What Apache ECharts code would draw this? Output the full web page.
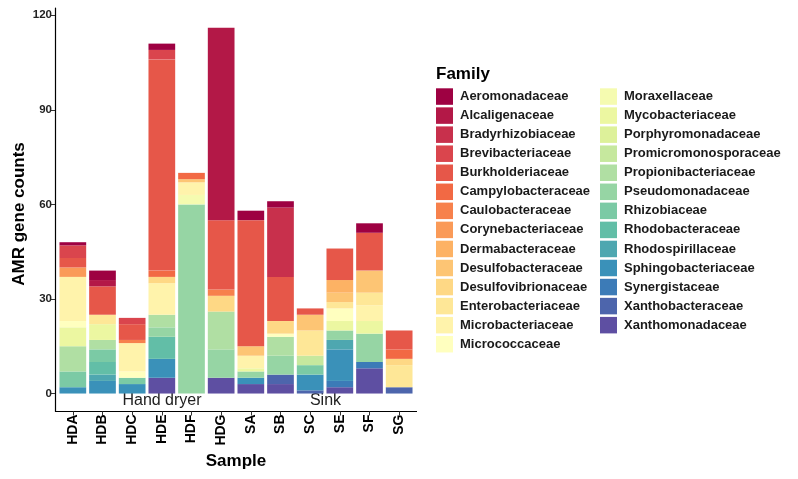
<!DOCTYPE html>
<html>
<head>
<meta charset="utf-8">
<script src="https://cdn.jsdelivr.net/npm/echarts@6/dist/echarts.min.js"></script>
<style>html,body{margin:0;padding:0;background:#fff}#chart{width:798px;height:479px}</style>
</head>
<body>
<div id="chart"></div>
<script>
// ---------------- data ----------------
const samples = ['HDA','HDB','HDC','HDE','HDF','HDG','SA','SB','SC','SE','SF','SG'];
const families = ['Aeromonadaceae','Alcaligenaceae','Bradyrhizobiaceae','Brevibacteriaceae','Burkholderiaceae',
  'Campylobacteraceae','Caulobacteraceae','Corynebacteriaceae','Dermabacteraceae','Desulfobacteraceae',
  'Desulfovibrionaceae','Enterobacteriaceae','Microbacteriaceae','Micrococcaceae','Moraxellaceae',
  'Mycobacteriaceae','Porphyromonadaceae','Promicromonosporaceae','Propionibacteriaceae','Pseudomonadaceae',
  'Rhizobiaceae','Rhodobacteraceae','Rhodospirillaceae','Sphingobacteriaceae','Synergistaceae',
  'Xanthobacteraceae','Xanthomonadaceae'];
//                          HDA HDB HDC HDE HDF HDG SA  SB  SC  SE  SF  SG
const Aeromonadaceae      = [1,  3,  0,  2,  0,  0,  3,  2,  0,  0,  3,  0];
const Alcaligenaceae      = [0,  2,  0,  0,  0, 61,  0,  0,  0,  0,  0,  0];
const Bradyrhizobiaceae   = [0,  0,  0,  0,  0,  0,  0, 22,  0,  0,  0,  0];
const Brevibacteriaceae   = [4,  0,  2,  3,  0,  0,  0,  0,  0,  0,  0,  0];
const Burkholderiaceae    = [3,  9,  5, 67,  0, 22, 40, 14,  2, 10, 12,  6];
const Campylobacteraceae  = [0,  0,  0,  2,  2,  0,  0,  0,  0,  0,  0,  3];
const Caulobacteraceae    = [0,  0,  1,  0,  0,  2,  0,  0,  0,  0,  0,  0];
const Corynebacteriaceae  = [3,  0,  0,  0,  0,  0,  0,  0,  0,  0,  0,  0];
const Dermabacteraceae    = [0,  0,  0,  0,  0,  0,  0,  0,  0,  4,  0,  0];
const Desulfobacteraceae  = [0,  0,  0,  0,  1,  0,  3,  0,  5,  3,  7,  0];
const Desulfovibrionaceae = [0,  0,  0,  2,  0,  5,  0,  4,  0,  0,  0,  2];
const Enterobacteriaceae  = [0,  3,  0,  0,  0,  0,  0,  0,  8,  2,  4,  7];
const Microbacteriaceae   = [14, 0,  9, 10,  4,  0,  4,  0,  0,  0,  5,  0];
const Micrococcaceae      = [2,  0,  2,  0,  0,  0,  0,  1,  0,  4,  0,  0];
const Moraxellaceae       = [0,  0,  0,  0,  3,  0,  0,  0,  0,  0,  0,  0];
const Mycobacteriaceae    = [6,  5,  0,  0,  0,  0,  1,  0,  0,  3,  4,  0];
const Porphyromonadaceae  = [0,  0,  0,  0,  0,  0,  0,  0,  0,  0,  0,  0];
const Promicromonosporaceae=[0,  0,  0,  0,  0,  0,  0,  0,  3,  0,  0,  0];
const Propionibacteriaceae= [8,  3,  0,  4,  0, 12,  0,  6,  0,  0,  0,  0];
const Pseudomonadaceae    = [0,  0,  0,  3, 60,  9,  2,  6,  0,  3,  9,  0];
const Rhizobiaceae        = [5,  4,  2,  0,  0,  0,  0,  0,  3,  0,  0,  0];
const Rhodobacteraceae    = [0,  4,  0,  7,  0,  0,  0,  0,  0,  0,  0,  0];
const Rhodospirillaceae   = [0,  2,  0,  0,  0,  0,  0,  0,  0,  3,  0,  0];
const Sphingobacteriaceae = [2,  4,  3,  6,  0,  0,  2,  0,  5, 10,  0,  0];
const Synergistaceae      = [0,  0,  0,  0,  0,  0,  0,  0,  0,  2,  2,  0];
const Xanthobacteraceae   = [0,  0,  0,  0,  0,  0,  0,  3,  1,  0,  0,  2];
const Xanthomonadaceae    = [0,  0,  0,  5,  0,  5,  3,  3,  0,  2,  8,  0];
const yTicks = [0, 30, 60, 90, 120];
const groupLabels = ['Hand dryer', 'Sink'];

const familyValues = [Aeromonadaceae, Alcaligenaceae, Bradyrhizobiaceae, Brevibacteriaceae, Burkholderiaceae,
  Campylobacteraceae, Caulobacteraceae, Corynebacteriaceae, Dermabacteraceae, Desulfobacteraceae,
  Desulfovibrionaceae, Enterobacteriaceae, Microbacteriaceae, Micrococcaceae, Moraxellaceae,
  Mycobacteriaceae, Porphyromonadaceae, Promicromonosporaceae, Propionibacteriaceae, Pseudomonadaceae,
  Rhizobiaceae, Rhodobacteraceae, Rhodospirillaceae, Sphingobacteriaceae, Synergistaceae,
  Xanthobacteraceae, Xanthomonadaceae];

// ---------------- style ----------------
const spectral = ['#9E0142','#D53E4F','#F46D43','#FDAE61','#FEE08B','#FFFFBF','#E6F598','#ABDDA4','#66C2A5','#3288BD','#5E4FA2'];
function hex2rgb(h){return [1,3,5].map(i=>parseInt(h.substr(i,2),16));}
function ramp(stops, n){
  const out=[];
  for(let i=0;i<n;i++){
    const t=i*(stops.length-1)/(n-1);
    const k=Math.min(Math.floor(t), stops.length-2);
    const f=t-k;
    const a=hex2rgb(stops[k]), b=hex2rgb(stops[k+1]);
    const c=a.map((v,j)=>Math.round(v+(b[j]-v)*f));
    out.push('rgb('+c.join(',')+')');
  }
  return out;
}
const colors = ramp(spectral, families.length);
const FONT = "'Liberation Sans', Arial, Helvetica, sans-serif";

const series = [];
for (let i = families.length - 1; i >= 0; i--) {
  series.push({
    name: families[i],
    type: 'bar',
    stack: 'total',
    barWidth: '90%',
    itemStyle: { color: colors[i] },
    emphasis: { disabled: true },
    data: familyValues[i]
  });
}

const chart = echarts.init(document.getElementById('chart'), null, {renderer: 'canvas'});
const legendCommon = {
  orient: 'vertical', icon: 'rect', itemWidth: 17, itemHeight: 16.5, itemGap: 2.55,
  padding: 0, selectedMode: false, top: 88.3,
  textStyle: { fontFamily: FONT, fontSize: 13, fontWeight: 'bold', color: '#1a1a1a', padding: [0,0,0,2] }
};
chart.setOption({
  animation: false,
  backgroundColor: '#fff',
  textStyle: { fontFamily: FONT },
  grid: { left: 58, right: 384, top: 8, bottom: 67.5, containLabel: false },
  xAxis: {
    type: 'category', data: samples,
    axisLine: { show: true, onZero: false, lineStyle: { color: '#000', width: 1.2 } },
    axisTick: { show: true, length: 4, alignWithLabel: true, lineStyle: { color: '#333' } },
    axisLabel: { rotate: 90, margin: 3, interval: 0, fontFamily: FONT, fontSize: 14, fontWeight: 'bold', color: '#000' },
    splitLine: { show: false }
  },
  yAxis: {
    type: 'value', min: -5.7, max: 122.3, offset: 3,
    axisLine: { show: true, onZero: false, lineStyle: { color: '#000', width: 1.2 } },
    axisTick: { show: true, length: 4, customValues: yTicks, lineStyle: { color: '#333' } },
    axisLabel: { customValues: yTicks, margin: 3, fontFamily: FONT, fontSize: 11.5, fontWeight: 'bold', color: '#222' },
    splitLine: { show: false }
  },
  legend: [
    Object.assign({}, legendCommon, { left: 436, data: families.slice(0, 14) }),
    Object.assign({}, legendCommon, { left: 600, data: families.slice(14) })
  ],
  graphic: [
    { type: 'line', shape: { x1: 55, y1: 411.5, x2: 417, y2: 411.5 }, style: { stroke: '#000', lineWidth: 1.2 }, silent: true },
    { type: 'text', x: 436, y: 74, style: { text: 'Family', font: "bold 17px " + FONT, fill: '#000', align: 'left', verticalAlign: 'middle' } },
    { type: 'text', x: 236, y: 461, style: { text: 'Sample', font: "bold 17px " + FONT, fill: '#000', align: 'center', verticalAlign: 'middle' } },
    { type: 'text', x: 19, y: 214, rotation: Math.PI / 2, style: { text: 'AMR gene counts', font: "bold 17px " + FONT, fill: '#000', align: 'center', verticalAlign: 'middle' } },
    { type: 'text', x: 162, y: 401, style: { text: groupLabels[0], font: "16px " + FONT, fill: '#222', align: 'center', verticalAlign: 'middle' } },
    { type: 'text', x: 325.5, y: 401, style: { text: groupLabels[1], font: "16px " + FONT, fill: '#222', align: 'center', verticalAlign: 'middle' } }
  ],
  series: series
});
</script>
</body>
</html>
